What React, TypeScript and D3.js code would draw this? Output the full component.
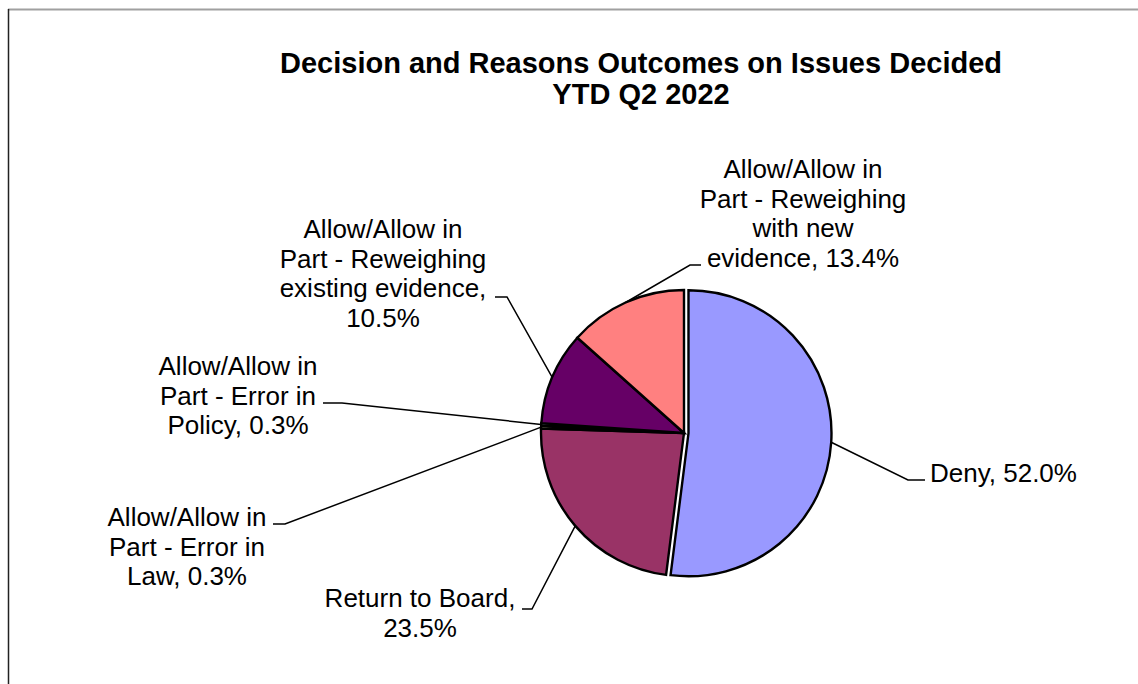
import React from "react";
import * as d3 from "d3";

const categories = [
  "Deny",
  "Return to Board",
  "Allow/Allow in Part - Error in Law",
  "Allow/Allow in Part - Error in Policy",
  "Allow/Allow in Part - Reweighing existing evidence",
  "Allow/Allow in Part - Reweighing with new evidence",
];
const values = [52.0, 23.5, 0.3, 0.3, 10.5, 13.4];
const colors = ["#9999FF", "#993366", "#FFFFCC", "#CCFFFF", "#660066", "#FF8080"];
const labelLines = [
  ["Deny, 52.0%"],
  ["Return to Board,", "23.5%"],
  ["Allow/Allow in", "Part - Error in", "Law, 0.3%"],
  ["Allow/Allow in", "Part - Error in", "Policy, 0.3%"],
  ["Allow/Allow in", "Part - Reweighing", "existing evidence,", "10.5%"],
  ["Allow/Allow in", "Part - Reweighing", "with new", "evidence, 13.4%"],
];
const titleLines = ["Decision and Reasons Outcomes on Issues Decided", "YTD Q2 2022"];

// layout for labels: text x, first baseline, anchor, elbow point, horizontal end
const labelLayout = [
  { x: 930, y: 482, anchor: "start", elbow: [908, 480], end: [925, 480] },
  { x: 420, y: 607, anchor: "middle", elbow: [532, 609], end: [522, 609] },
  { x: 187, y: 526, anchor: "middle", elbow: [285, 524], end: [273, 524] },
  { x: 238, y: 375, anchor: "middle", elbow: [342, 403], end: [323, 403] },
  { x: 383, y: 238, anchor: "middle", elbow: [507, 297], end: [495, 297] },
  { x: 803, y: 178, anchor: "middle", elbow: [690, 265], end: [701, 265] },
];

const W = 1138;
const H = 684;
const cx = 684;
const cy = 433;
const R = 143;
const explode = [4.5, 0, 0, 0, 0, 0];
const lineH = 29.5;
const font = "'Liberation Sans', Arial, sans-serif";

export default function App() {
  const pie = d3.pie<number>().sort(null).value((d) => d)(values);
  const arc = d3.arc<d3.PieArcDatum<number>>().innerRadius(0).outerRadius(R);
  const edge = d3.arc<d3.PieArcDatum<number>>().innerRadius(R).outerRadius(R);

  return (
    <svg
      width={W}
      height={H}
      style={{ position: "absolute", left: 0, top: 0, display: "block", background: "#fff" }}
    >
      <rect x={0} y={0} width={W} height={H} fill="#fff" />
      <line x1={8} y1={9.5} x2={W} y2={9.5} stroke="#a0a0a0" strokeWidth={2} />
      <line x1={8.5} y1={9} x2={8.5} y2={H} stroke="#222" strokeWidth={1.5} />

      <text fontFamily={font} fontWeight="bold" fontSize={29} textAnchor="middle" fill="#000">
        {titleLines.map((t, i) => (
          <tspan key={i} x={641} y={73 + i * 31}>
            {t}
          </tspan>
        ))}
      </text>

      <g>
        {pie.map((p, i) => {
          const mid = (p.startAngle + p.endAngle) / 2;
          const dx = explode[i] * Math.sin(mid);
          const dy = -explode[i] * Math.cos(mid);
          return (
            <path
              key={categories[i]}
              d={arc(p) || ""}
              transform={`translate(${cx + dx},${cy + dy})`}
              fill={colors[i]}
              stroke="#000"
              strokeWidth={2.4}
              strokeLinejoin="miter"
            />
          );
        })}
      </g>

      <g fill="none" stroke="#000" strokeWidth={1.5}>
        {pie.map((p, i) => {
          const mid = (p.startAngle + p.endAngle) / 2;
          const dx = explode[i] * Math.sin(mid);
          const dy = -explode[i] * Math.cos(mid);
          const [ex, ey] = edge.centroid(p);
          const L = labelLayout[i];
          const pts: [number, number][] = [
            [cx + dx + ex, cy + dy + ey],
            [L.elbow[0], L.elbow[1]],
            [L.end[0], L.end[1]],
          ];
          return <path key={i} d={d3.line()(pts) || ""} />;
        })}
      </g>

      <g fontFamily={font} fontSize={26} fill="#000">
        {labelLines.map((lines, i) => {
          const L = labelLayout[i];
          return (
            <text key={i} textAnchor={L.anchor as any}>
              {lines.map((t, j) => (
                <tspan key={j} x={L.x} y={L.y + j * lineH}>
                  {t}
                </tspan>
              ))}
            </text>
          );
        })}
      </g>
    </svg>
  );
}
